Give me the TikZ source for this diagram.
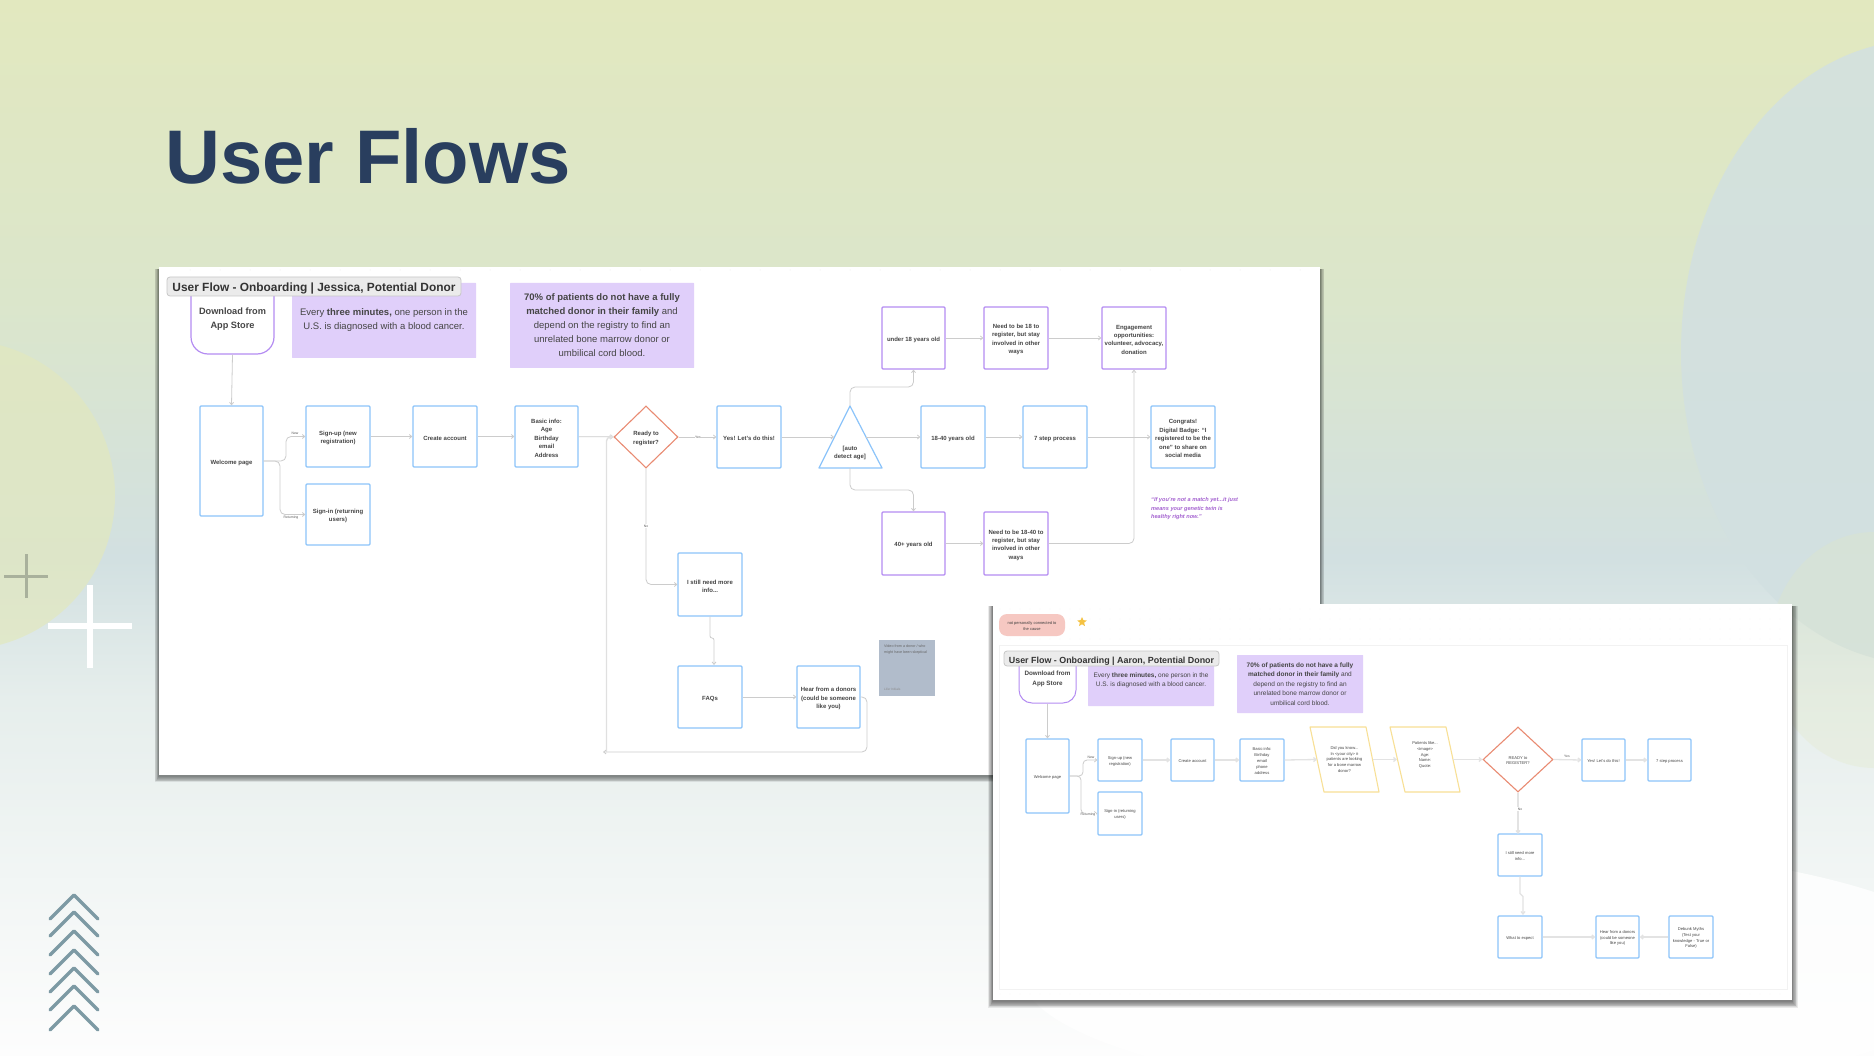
\documentclass[tikz,border=0pt]{standalone}
\usepackage{fontspec}
\setmainfont{Liberation Sans}
\usetikzlibrary{arrows.meta,shapes.geometric}
\definecolor{bga}{HTML}{FDFDFD}
\definecolor{bgb}{HTML}{E6EEEC}
\definecolor{bgc}{HTML}{D2E0E1}
\definecolor{bgd}{HTML}{DBE6CB}
\definecolor{bge}{HTML}{E2E8BF}
\pgfdeclareverticalshading{bgv}{100bp}{color(0bp)=(bga); color(25bp)=(bga); color(41.9bp)=(bgb); color(48.5bp)=(bgc); color(60.8bp)=(bgd); color(75bp)=(bge); color(100bp)=(bge)}
\definecolor{flowblue}{HTML}{8CC4FA}
\definecolor{flowpurple}{HTML}{B48CF2}
\definecolor{flowred}{HTML}{E98B72}
\definecolor{flowyellow}{HTML}{F8E096}
\definecolor{notepurple}{HTML}{E0CFFA}
\definecolor{inkgrey}{HTML}{454545}
\definecolor{notegrey}{HTML}{B1BCCB}
\definecolor{pillpink}{HTML}{F6C8C2}
\definecolor{titleblue}{HTML}{293E5E}
\definecolor{chev}{HTML}{7D9AA4}
\definecolor{starcol}{HTML}{F5C242}
\newcommand{\fsz}[2]{\fontsize{#1}{#2}\selectfont}
\newcommand{\plainbox}[7]{%
  \pgfmathsetmacro\bxcx{(#3+#5)/2}\pgfmathsetmacro\bxcy{(#4+#6)/2}%
  \pgfmathsetmacro\bxw{#5-#3}\pgfmathsetmacro\bxh{#6-#4}%
  \node[#1,minimum width=\bxw,minimum height=\bxh] (#2) at (\bxcx,\bxcy) {#7};}
\newcommand{\flowbox}[7]{\plainbox{#1}{#2}{#3}{#4}{#5}{#6}{\rule{0pt}{1.25em}#7}}
\tikzset{
  boxbase/.style={draw,fill=white,align=center,inner sep=0,rounded corners=1,line width=1.2,text=inkgrey},
  bigtxt/.style={font=\fsz{6}{8.4}\bfseries},
  smalltxt/.style={font=\fsz{4.1}{5.8}},
  bluea/.style={boxbase,bigtxt,draw=flowblue},
  purplea/.style={boxbase,bigtxt,draw=flowpurple},
  blueb/.style={boxbase,smalltxt,draw=flowblue},
  downa/.style={boxbase,draw=flowpurple,rounded corners=17,font=\fsz{9.2}{14}\bfseries},
  downb/.style={boxbase,draw=flowpurple,rounded corners=13,font=\fsz{6.3}{9.6}\bfseries,line width=1},
  notea/.style={fill=notepurple,align=center,inner sep=0,text=inkgrey,rounded corners=.5,font=\fsz{9.5}{14}},
  noteb/.style={fill=notepurple,align=center,inner sep=0,text=inkgrey,rounded corners=.5,font=\fsz{6.5}{9.6}},
  tagbox/.style={draw=black!22,fill=black!8,rounded corners=3,line width=.8,align=center,inner sep=0,text=black!80},
  decision/.style={diamond,aspect=1,draw=flowred,fill=white,align=center,inner sep=0,line width=1.1,text=inkgrey},
  conn/.style={draw=black!20,line width=.8,rounded corners=5,-{Straight Barb[length=2.5pt,width=4pt]}},
  connb/.style={draw=black!11,line width=1.3,rounded corners=4,-{Straight Barb[length=2.5pt,width=4pt]}},
  edgetag/.style={fill=white,inner sep=.6,text=black!65,font=\fsz{3.4}{4}},
  shapetxt/.style={align=center,inner sep=0,text=inkgrey},
  gridspot/.style={fill=black!9},
  chevline/.style={draw=chev,line width=3.4,line cap=round,line join=round},
}
\begin{document}
\begin{tikzpicture}[x=1pt,y=-1pt]
\useasboundingbox (0,0) rectangle (1874,1056);
% background
\shade[shading=bgv] (0,0) rectangle (1874,1056);
\fill[fill=bge,opacity=.72] (-40,495) circle (155);
\fill[fill=bgc,opacity=.85] (1921,352) ellipse [x radius=240,y radius=312];
\fill[fill=bge,opacity=.25] (1874,650) ellipse [x radius=105,y radius=118];
\fill[fill=white,opacity=.8] (1500,971) ellipse [x radius=480,y radius=126];
% crosses
\draw[draw=black!25!bgd,line width=3,draw opacity=.9] (26,554) -- (26,598) (4,576) -- (48,576);
\draw[draw=white,line width=6] (90,585) -- (90,668) (48,626) -- (132,626);
% chevrons
\foreach \yy in {895,912,931,950,968,986,1006}
  \draw[chevline] (50,\yy+24) -- (74,\yy) -- (98,\yy+24);
% title
\node[anchor=base west,inner sep=0,text=titleblue,font=\fsz{76}{80}\bfseries] (maintitle) at (165,184) {User Flows};

% ---------- panel 1 ----------
\foreach \ss in {7,6,5,4,3,2,1}
  \fill[black,opacity=.08] (159-\ss*.6,269) rectangle (1320+\ss*.6,776+\ss*.9);
\fill[white] (159,267) rectangle (1320,775);
\foreach \xx in {190,220,...,1310} \fill[gridspot] (\xx,270) circle (.5);

\plainbox{notea}{pa}{292}{283}{476}{358}{Every \textbf{three minutes,} one person in the\\U.S. is diagnosed with a blood cancer.}
\plainbox{notea}{pb}{510}{283}{694}{368}{\textbf{70\% of patients do not have a fully}\\\textbf{matched donor in their family} and\\depend on the registry to find an\\unrelated bone marrow donor or\\umbilical cord blood.}
\flowbox{downa}{da}{191}{279}{274}{354}{Download from\\App Store}
\flowbox{tagbox}{ta}{167}{277}{461}{296}{\fsz{11.9}{14}\textbf{User Flow - Onboarding | Jessica, Potential Donor}}

\flowbox{bluea}{wa}{200}{406}{263}{516}{Welcome page}
\flowbox{bluea}{sua}{306}{406}{370}{467}{Sign-up (new\\registration)}
\flowbox{bluea}{sia}{306}{484}{370}{545}{Sign-in (returning\\users)}
\flowbox{bluea}{ca}{413}{406}{477}{467}{Create account}
\flowbox{bluea}{ba}{515}{406}{578}{467}{Basic info:\\Age\\Birthday\\email\\Address}
\flowbox{decision,bigtxt}{dia}{614}{406}{678}{468}{Ready to\\register?}
\flowbox{bluea}{ya}{717}{406}{781}{468}{Yes! Let's do this!}
% triangle
\draw[draw=flowblue,fill=white,line width=1.2,line join=round] (850,406) -- (882,468) -- (819,468) -- cycle;
\node[shapetxt,bigtxt] (tria) at (850,453) {[auto\\detect age]};
\coordinate (trit) at (850,406);
\coordinate (trib) at (850,468);
\coordinate (tril) at (834,437);
\coordinate (trir) at (866,437);
\flowbox{bluea}{mida}{921}{406}{985}{468}{18-40 years old}
\flowbox{bluea}{sevena}{1023}{406}{1087}{468}{7 step process}
\flowbox{bluea}{conga}{1151}{406}{1215}{468}{Congrats!\\Digital Badge: “I\\registered to be the\\one” to share on\\social media}
\flowbox{purplea}{una}{882}{307}{945}{369}{under 18 years old}
\flowbox{purplea}{nua}{984}{307}{1048}{369}{Need to be 18 to\\register, but stay\\involved in other\\ways}
\flowbox{purplea}{ena}{1102}{307}{1166}{369}{Engagement\\opportunities:\\volunteer, advocacy,\\donation}
\flowbox{purplea}{ova}{882}{512}{945}{575}{40+ years old}
\flowbox{purplea}{noa}{984}{512}{1048}{575}{Need to be 18-40 to\\register, but stay\\involved in other\\ways}
\node[anchor=north west,align=left,inner sep=0,text=flowpurple!70!violet,font=\fsz{5.6}{8.8}\bfseries\itshape] (quo) at (1151,497) {“If you're not a match yet...it just\\means your genetic twin is\\healthy right now.”};
\flowbox{bluea}{ia}{678}{553}{742}{616}{I still need more\\info...}
\flowbox{bluea}{fa}{678}{666}{742}{728}{FAQs}
\flowbox{bluea}{ha}{797}{666}{860}{728}{Hear from a donors\\(could be someone\\like you)}
\flowbox{fill=notegrey,inner sep=0}{ga}{879}{640}{935}{696}{}
\node[anchor=north west,align=left,inner sep=0,text=black!60,font=\fsz{3.7}{5.4}] (gat) at (884,645) {Video from a donor / who\\might have been skeptical};
\node[anchor=west,inner sep=0,text=black!45,font=\fsz{3.2}{4}] (gab) at (884,689) {Lifer Initials};

% panel 1 connectors
\draw[conn] (da.south) -- (wa.north);
\coordinate (b1) at (286,461);
\coordinate (b2) at (280,461);
\draw[conn] (wa.east) -- (b1) |- (sua.west);
\draw[conn] (wa.east) -- (b2) |- (sia.west);
\draw[conn] (sua) -- (ca);
\draw[conn] (ca) -- (ba);
\draw[conn] (ba) -- (dia);
\draw[conn] (dia) -- (ya);
\draw[conn] (ya.east) -- (tril);
\draw[conn] (trir) -- (mida.west);
\draw[conn] (mida) -- (sevena);
\draw[conn] (sevena) -- (conga);
\coordinate (b3) at (850,387);
\coordinate (b4) at (913.5,387);
\draw[conn] (trit) -- (b3) -- (b4) -- (una.south);
\coordinate (b5) at (850,490);
\coordinate (b6) at (913.5,490);
\draw[conn] (trib) -- (b5) -- (b6) -- (ova.north);
\draw[conn] (una) -- (nua);
\draw[conn] (nua) -- (ena);
\draw[conn] (ova) -- (noa);
\draw[conn] (noa.east) -| (ena.south);
\draw[conn] (dia.south) |- (ia.west);
\coordinate (b7) at (710,638);
\coordinate (b8) at (714,638);
\coordinate (b9) at (714,665);
\draw[conn,rounded corners=2] (ia.south) -- (b7) -- (b8) -- (b9);
\draw[conn] (fa) -- (ha);
\coordinate (b10) at (867,697);
\coordinate (b11) at (867,752);
\coordinate (b12) at (603,752);
\draw[conn] (ha.east) -- (b10) -- (b11) -- (b12);
\coordinate (b13) at (606.5,752);
\coordinate (b14) at (606.5,437);
\draw[draw=black!12,line width=1.4,rounded corners=4,-{Straight Barb[length=2.5pt,width=4pt]}] (b13) -- (b14) -- (dia.west);
\node[edgetag] (la1) at (295,433) {New};
\node[edgetag] (la2) at (291,518) {Returning};
\node[edgetag] (la3) at (698,437) {Yes};
\node[edgetag] (la4) at (646,526) {No};

% ---------- panel 2 ----------
\foreach \ss in {8,7,6,5,4,3,2,1}
  \fill[black,opacity=.08] (993-\ss*.6,606) rectangle (1792+\ss*.7,1001+\ss*.9);
\fill[white] (993,604) rectangle (1792,1000);
\foreach \xx in {1000,1010,...,1785} {
  \foreach \yy in {609,619,629,639} \fill[gridspot] (\xx,\yy) circle (.45);
  \fill[gridspot] (\xx,994) circle (.45);
}
\draw[draw=black!5,line width=.7] (999,645) rectangle (1787,989);
\flowbox{fill=pillpink,rounded corners=8,align=center,inner sep=0,font=\fsz{4}{5.8},text=black!75}{pill}{999}{614}{1065}{636}{not personally connected to\\the cause}
\node[star,star points=5,star point ratio=2.2,fill=starcol,minimum size=10,inner sep=0] (strm) at (1082,622) {};

\plainbox{noteb}{pc}{1088}{655}{1214}{706}{Every \textbf{three minutes,} one person in the\\U.S. is diagnosed with a blood cancer.}
\plainbox{noteb}{pd}{1237}{655}{1363}{713}{\textbf{70\% of patients do not have a fully}\\\textbf{matched donor in their family} and\\depend on the registry to find an\\unrelated bone marrow donor or\\umbilical cord blood.}
\flowbox{downb}{db}{1019}{652}{1076}{703}{Download from\\App Store}
\flowbox{tagbox}{tb}{1004}{651}{1219}{666}{\fsz{8.9}{11}\textbf{User Flow - Onboarding | Aaron, Potential Donor}}

\flowbox{blueb}{wb}{1026}{739}{1069}{813}{Welcome page}
\flowbox{blueb}{sub}{1098}{739}{1142}{781}{Sign-up (new\\registration)}
\flowbox{blueb}{sib}{1098}{792}{1142}{835}{Sign-in (returning\\users)}
\flowbox{blueb}{cb}{1171}{739}{1214}{781}{Create account}
\flowbox{blueb}{bb}{1240}{739}{1284}{781}{Basic info:\\Birthday\\email\\phone\\address}
% parallelograms
\draw[draw=flowyellow,fill=white,line width=1.1,line join=round] (1310,727) -- (1366,727) -- (1379,792) -- (1324,792) -- cycle;
\node[shapetxt,smalltxt] (pab) at (1344.5,759.5) {Did you know...\\In <your city> \#\\patients are looking\\for a bone marrow\\donor?};
\coordinate (pabw) at (1317,759.5);
\coordinate (pabe) at (1372.5,759.5);
\draw[draw=flowyellow,fill=white,line width=1.1,line join=round] (1390,727) -- (1446,727) -- (1460,792) -- (1405,792) -- cycle;
\node[shapetxt,smalltxt] (pbb) at (1425,755) {Patients like...\\<image>\\Age:\\Name:\\Quote:};
\coordinate (pbbw) at (1397,759.5);
\coordinate (pbbe) at (1453,759.5);
\flowbox{decision,smalltxt}{dib}{1483}{727}{1553}{792}{READY to\\REGISTER?}
\flowbox{blueb}{yb}{1582}{739}{1625}{781}{Yes! Let's do this!}
\flowbox{blueb}{sevb}{1648}{739}{1691}{781}{7 step process}
\flowbox{blueb}{ib}{1498}{834}{1542}{876}{I still need more\\info...}
\flowbox{blueb}{eb}{1498}{916}{1542}{958}{What to expect}
\flowbox{blueb}{hb}{1596}{916}{1639}{958}{Hear from a donors\\(could be someone\\like you)}
\flowbox{blueb}{mb}{1669}{916}{1713}{958}{Debunk Myths\\(Test your\\knowledge - True or\\False)}

% panel 2 connectors
\draw[conn] (db.south) -- (wb.north);
\coordinate (c1) at (1083,776);
\coordinate (c2) at (1081,776);
\draw[conn,rounded corners=4] (wb.east) -- (c1) |- (sub.west);
\draw[conn,rounded corners=4] (wb.east) -- (c2) |- (sib.west);
\draw[connb] (sub) -- (cb);
\draw[connb] (cb) -- (bb);
\draw[connb] (bb.east) -- (pabw);
\draw[connb] (pabe) -- (pbbw);
\draw[connb] (pbbe) -- (dib.west);
\draw[connb] (dib.east) -- (yb.west);
\draw[connb] (yb) -- (sevb);
\coordinate (c3) at (1518,834);
\draw[connb] (dib.south) -- (c3);
\coordinate (c4) at (1520,895);
\coordinate (c5) at (1523,895);
\coordinate (c6) at (1523,915);
\draw[connb,rounded corners=1.5] (ib.south) -- (c4) -- (c5) -- (c6);
\draw[connb] (eb) -- (hb);
\draw[connb] (mb) -- (hb);
\node[edgetag] (lb1) at (1091,757) {New};
\node[edgetag] (lb2) at (1088,815) {Returning};
\node[edgetag,fill=none] (lb3) at (1567,756) {Yes};
\node[edgetag] (lb4) at (1520,809) {No};
\end{tikzpicture}
\end{document}
